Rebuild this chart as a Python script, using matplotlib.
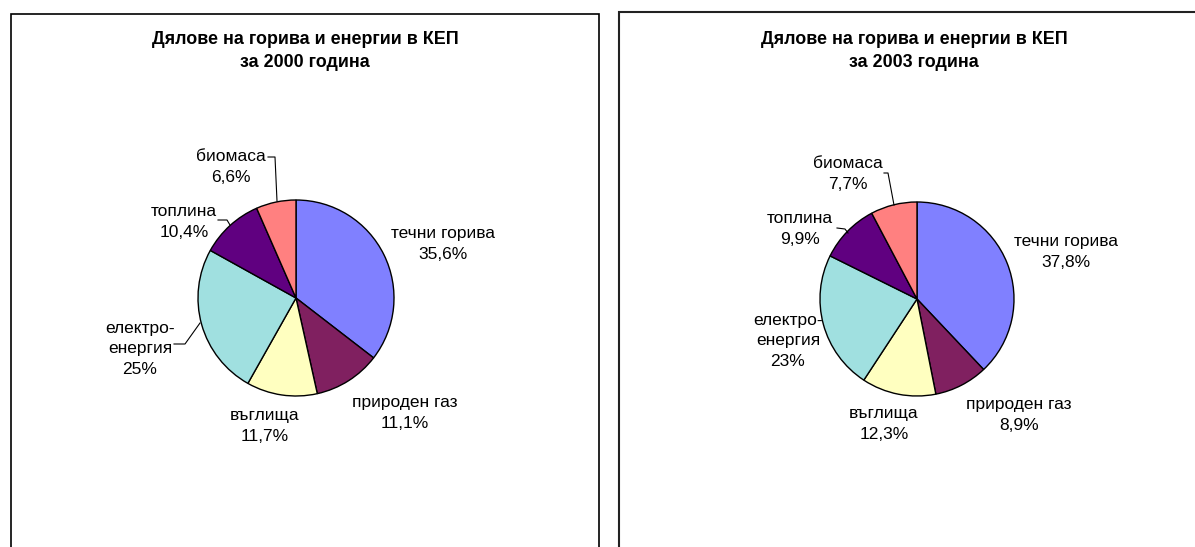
import matplotlib.pyplot as plt
from matplotlib.patches import Rectangle

plt.rcParams['font.family'] = ['Liberation Sans', 'DejaVu Sans']

# data
categories = ['течни горива', 'природен газ', 'въглища', 'електро-\nенергия', 'топлина', 'биомаса']
shares_2000 = [35.6, 11.1, 11.7, 25, 10.4, 6.6]
shares_2003 = [37.8, 8.9, 12.3, 23, 9.9, 7.7]
pct_labels_2000 = ['35,6%', '11,1%', '11,7%', '25%', '10,4%', '6,6%']
pct_labels_2003 = ['37,8%', '8,9%', '12,3%', '23%', '9,9%', '7,7%']
colors = ['#8080FF', '#802060', '#FFFFC0', '#A0E0E0', '#600080', '#FF8080']

W, H = 1195, 547
fig = plt.figure(figsize=(W / 100, H / 100), dpi=100)
ax = fig.add_axes([0, 0, 1, 1])


def Y(y):
    return H - y


# panel frames
ax.add_patch(Rectangle((11, -5), 588, Y(14) + 5, fill=False, ec='black', lw=1.2))
ax.add_patch(Rectangle((619, -5), 600, Y(12) + 5, fill=False, ec='#222222', lw=1.5))

panels = [
    dict(year='2000', vals=shares_2000, pcts=pct_labels_2000, cx=296, cy=298, r=98, tx=305,
         pos=[(443, 244), (405, 413), (265, 426), (140, 349), (184, 222), (231, 167)],
         leaders=[None, None, None,
                  [(174, 344), (185, 344), (200, 323)],
                  [(218, 220), (227, 220), (230, 225)],
                  [(268, 157), (275, 157), (277, 201)]]),
    dict(year='2003', vals=shares_2003, pcts=pct_labels_2003, cx=917, cy=299, r=97, tx=914,
         pos=[(1066, 252), (1019, 415), (884, 424), (788, 341), (800, 229), (848, 174)],
         leaders=[None, None, None, None,
                  [(837, 228), (845, 229), (848, 233)],
                  [(884, 173), (888, 173), (894, 205)]]),
]

for p in panels:
    ax.pie(p['vals'], colors=colors, startangle=90, counterclock=False,
           center=(p['cx'], Y(p['cy'])), radius=p['r'],
           wedgeprops=dict(edgecolor='black', linewidth=1.0), frame=True)
    ax.text(p['tx'], Y(51), 'Дялове на горива и енергии в КЕП\nза ' + p['year'] + ' година',
            ha='center', va='center', fontsize=12.9, fontweight='bold', linespacing=1.42)
    for cat, pct, (lx, ly), ld in zip(categories, p['pcts'], p['pos'], p['leaders']):
        ax.text(lx, Y(ly), cat + '\n' + pct, ha='center', va='center',
                fontsize=12.5, linespacing=1.42)
        if ld:
            ax.plot([q[0] for q in ld], [Y(q[1]) for q in ld], color='black', lw=0.8)

ax.set_xlim(0, W)
ax.set_ylim(0, H)
ax.set_aspect('auto')
ax.axis('off')

fig.savefig('out.png', dpi=100)
